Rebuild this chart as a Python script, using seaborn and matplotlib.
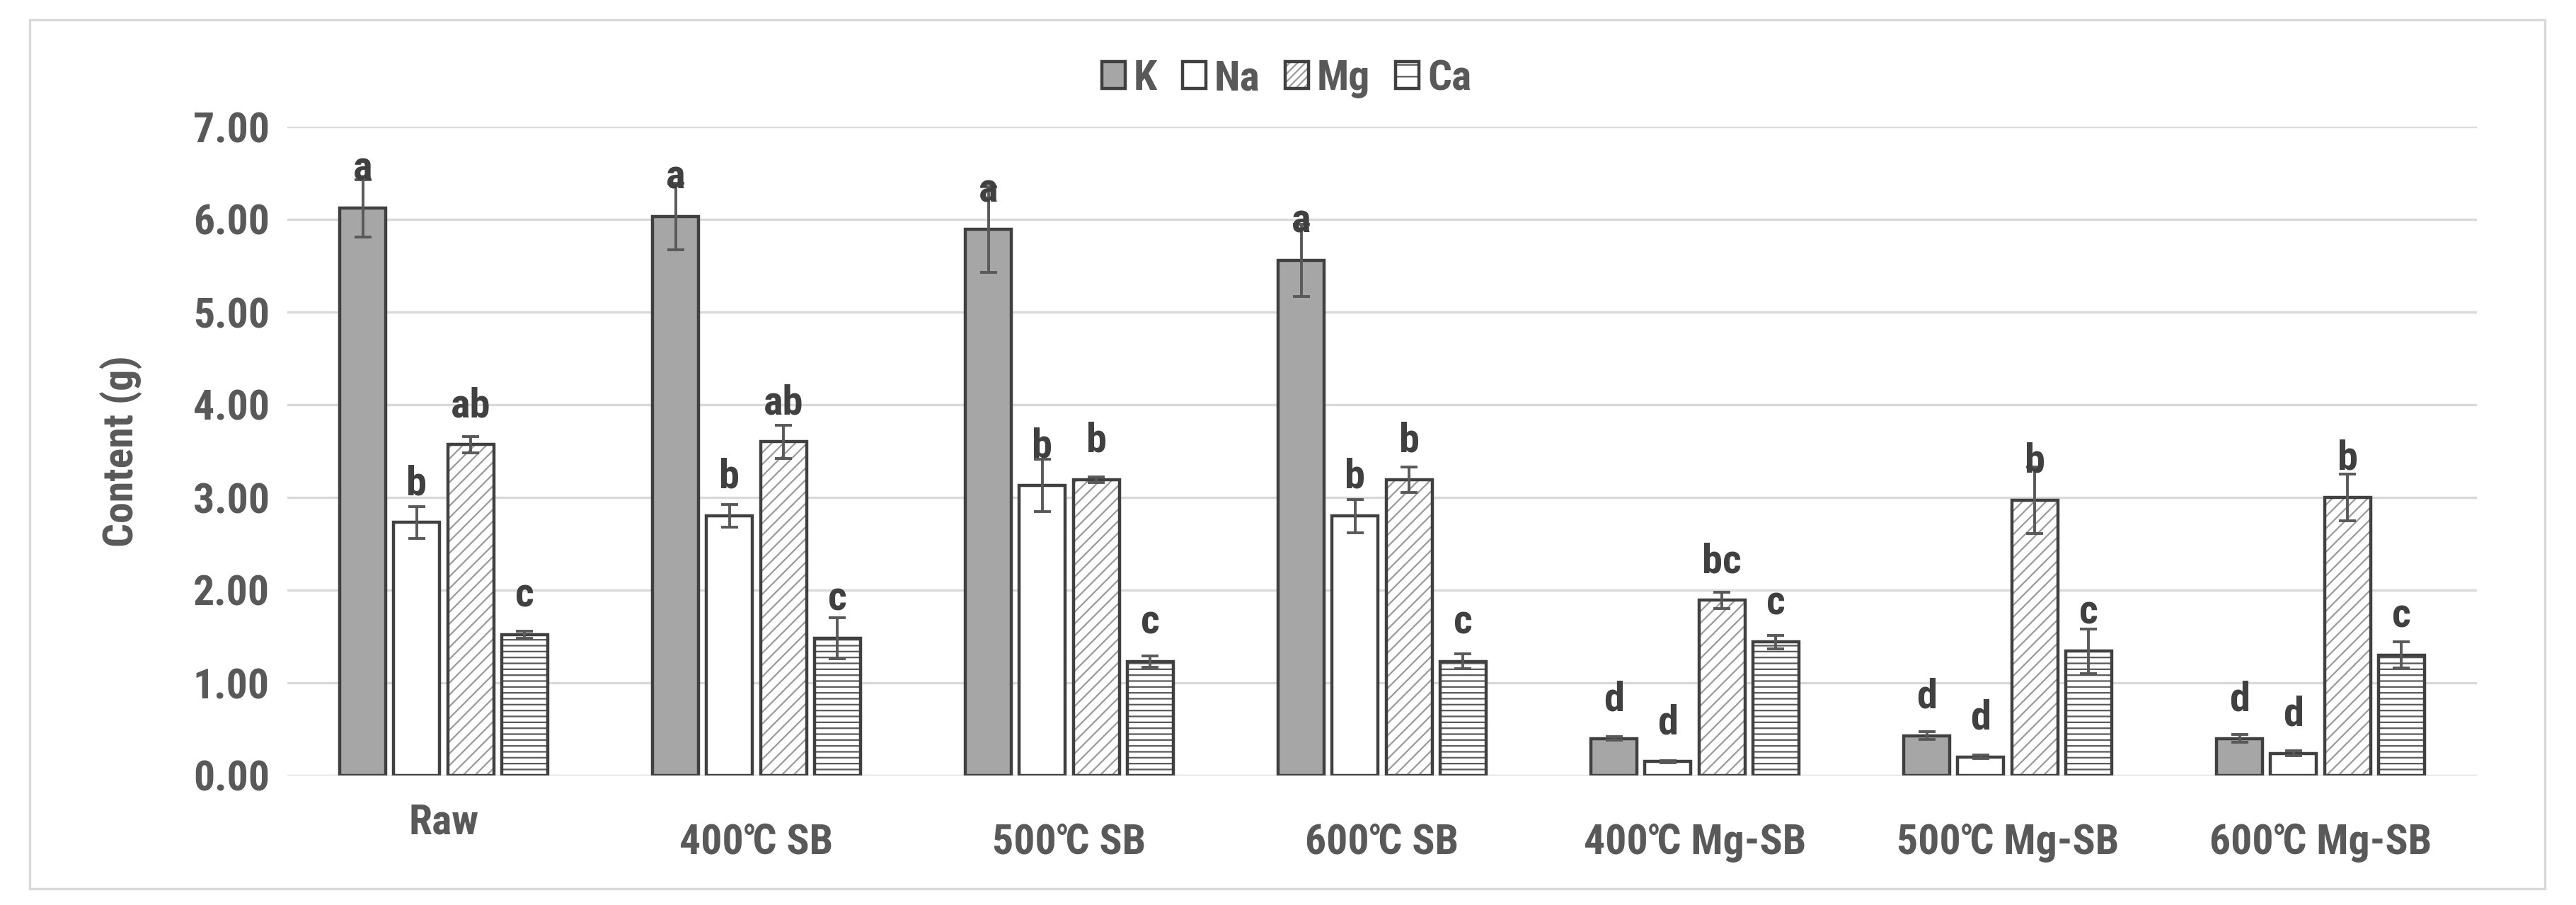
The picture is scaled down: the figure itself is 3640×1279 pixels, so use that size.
import numpy as np
import pandas as pd
import matplotlib
matplotlib.use('Agg')
import matplotlib.pyplot as plt
from matplotlib.patches import Patch, Rectangle
from matplotlib.legend_handler import HandlerTuple
import seaborn as sns

# mineral content per sample (g), mean and error bar half-width
groups = ['Raw', '400℃ SB', '500℃ SB', '600℃ SB', '400℃ Mg-SB', '500℃ Mg-SB', '600℃ Mg-SB']
elements = ['K', 'Na', 'Mg', 'Ca']

k_mean = [6.12, 6.03, 5.89, 5.56, 0.40, 0.43, 0.40]
k_err = [0.31, 0.36, 0.46, 0.39, 0.02, 0.04, 0.04]
na_mean = [2.73, 2.80, 3.13, 2.80, 0.15, 0.20, 0.24]
na_err = [0.17, 0.12, 0.28, 0.18, 0.01, 0.02, 0.03]
mg_mean = [3.57, 3.60, 3.19, 3.19, 1.89, 2.97, 3.00]
mg_err = [0.09, 0.18, 0.03, 0.14, 0.09, 0.36, 0.25]
ca_mean = [1.52, 1.48, 1.23, 1.23, 1.44, 1.34, 1.30]
ca_err = [0.04, 0.22, 0.06, 0.08, 0.07, 0.24, 0.14]

k_sig = ['a', 'a', 'a', 'a', 'd', 'd', 'd']
na_sig = ['b', 'b', 'b', 'b', 'd', 'd', 'd']
mg_sig = ['ab', 'ab', 'b', 'b', 'bc', 'b', 'b']
ca_sig = ['c', 'c', 'c', 'c', 'c', 'c', 'c']

means = {'K': k_mean, 'Na': na_mean, 'Mg': mg_mean, 'Ca': ca_mean}
errs = {'K': k_err, 'Na': na_err, 'Mg': mg_err, 'Ca': ca_err}
sigs = {'K': k_sig, 'Na': na_sig, 'Mg': mg_sig, 'Ca': ca_sig}

rows = []
for el in elements:
    for g, v in zip(groups, means[el]):
        rows.append({'Group': g, 'Element': el, 'Content': v})
df = pd.DataFrame(rows)

sns.set_style('white')
plt.rcParams['font.family'] = ['Roboto Condensed', 'DejaVu Sans']
plt.rcParams['font.weight'] = 'bold'
plt.rcParams['hatch.linewidth'] = 1.6

TXT = '#595959'
EDGE = '#404040'
FS = 43
fills = {'K': '#a6a6a6', 'Na': 'white', 'Mg': 'white', 'Ca': 'white'}
hatches = {'K': None, 'Na': None, 'Mg': '//', 'Ca': '--'}
hatch_col = {'Mg': '#9a9a9a', 'Ca': '#595959'}

fig = plt.figure(figsize=(36.4, 12.79), dpi=100)
ax = fig.add_axes([406 / 3640, 1 - 1096 / 1279, 3094 / 3640, 917 / 1279])

sns.barplot(data=df, x='Group', y='Content', hue='Element', order=groups,
            hue_order=elements, palette=fills, width=0.69, gap=0.15,
            errorbar=None, legend=False, ax=ax)

for el, cont in zip(elements, ax.containers):
    xs = []
    for p in cont:
        xs.append(p.get_x() + p.get_width() / 2)
        p.set_zorder(2)
        if hatches[el]:
            p.set_hatch(hatches[el])
            p.set_edgecolor(hatch_col[el])
            p.set_linewidth(0)
            ax.add_patch(Rectangle((p.get_x(), 0), p.get_width(), p.get_height(),
                                   fill=False, edgecolor=EDGE, lw=3.2, zorder=3))
        else:
            p.set_edgecolor(EDGE)
            p.set_linewidth(3.2)
    ax.errorbar(xs, means[el], yerr=errs[el], fmt='none', ecolor=TXT,
                elinewidth=2.8, capsize=8.5, capthick=2.8, zorder=4)
    for x, v, s in zip(xs, means[el], sigs[el]):
        ax.text(x, v + 0.3, s, ha='center', va='baseline', fontsize=42,
                color=EDGE, fontweight='bold', zorder=5)

ax.set_ylim(0, 7)
ax.set_xlim(-0.5, 6.5)
ax.set_yticks(np.arange(0, 7.01, 1))
ax.yaxis.set_major_formatter(matplotlib.ticker.FormatStrFormatter('%.2f'))
ax.grid(axis='y', color='#d9d9d9', lw=2.4)
ax.set_axisbelow(True)
for s in ax.spines.values():
    s.set_visible(False)
ax.tick_params(axis='both', length=0, labelsize=FS, labelcolor=TXT)
ax.tick_params(axis='y', pad=18)
ax.tick_params(axis='x', pad=48)
ax.set_xlabel('')
ax.set_ylabel('Content (g)', fontsize=FS, color=TXT, fontweight='bold')
ax.yaxis.set_label_coords(-0.066, 0.5)

# Raw label sits a bit higher than the others
ticks = ax.xaxis.get_major_ticks()
ticks[0].set_pad(28)

# legend
h_k = Patch(facecolor='#a6a6a6', edgecolor=EDGE, lw=3.2)
h_na = Patch(facecolor='white', edgecolor=EDGE, lw=3.2)
h_mg = (Patch(facecolor='white', edgecolor=hatch_col['Mg'], hatch='///', lw=0),
        Patch(fill=False, edgecolor=EDGE, lw=3.2))
h_ca = (Patch(facecolor='white', edgecolor=hatch_col['Ca'], hatch='-', lw=0),
        Patch(fill=False, edgecolor=EDGE, lw=3.2))
leg = fig.legend([h_k, h_na, h_mg, h_ca], elements, loc='center',
                 bbox_to_anchor=(0.4995, 1 - 111 / 1279), ncol=4, frameon=False,
                 fontsize=FS, handlelength=0.55, handleheight=0.6,
                 handletextpad=0.2, columnspacing=0.6,
                 handler_map={tuple: HandlerTuple(ndivide=1, pad=0)})
for t in leg.get_texts():
    t.set_color(TXT)

# outer chart border
fig.add_artist(Rectangle((42 / 3640, 1 - 1256 / 1279), (3596 - 42) / 3640, (1256 - 28) / 1279,
                         transform=fig.transFigure, fill=False, edgecolor='#d9d9d9', lw=2.4))

fig.savefig('out.png', dpi=100, facecolor='white')
